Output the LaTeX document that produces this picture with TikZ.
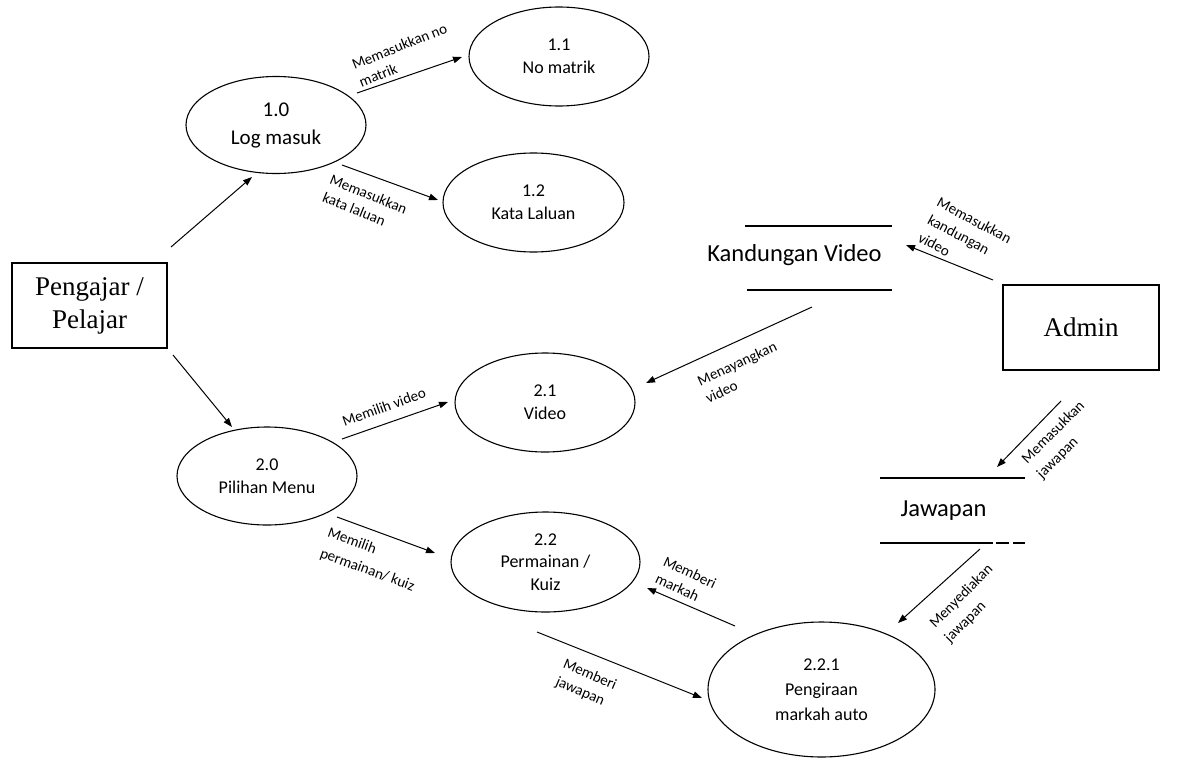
\documentclass[tikz,border=0pt]{standalone}
\usepackage{fontspec}
\setmainfont{Carlito}
\newfontfamily\timesf{Liberation Serif}
\usetikzlibrary{shapes.geometric,arrows.meta}
\begin{document}
\begin{tikzpicture}[x=1pt,y=-1pt,
  proc/.style={ellipse,draw,line width=1.1pt,inner sep=0pt,align=center,font=\fontsize{18}{23}\selectfont},
  ent/.style={rectangle,draw,line width=1.3pt,inner sep=0pt,align=center,font=\timesf\fontsize{27}{33}\selectfont},
  storetxt/.style={inner sep=0pt,font=\fontsize{24.5}{29}\selectfont},
  storeline/.style={line width=1.1pt},
  flow/.style={line width=1pt,-{Triangle[length=9pt,width=6.5pt]}},
  lbl/.style={inner sep=0pt,align=left,font=\fontsize{15}{19}\selectfont}]
\useasboundingbox (0,0) rectangle (1182,760);

% external entities
\node[ent,minimum width=155pt,minimum height=85pt] (peng) at (89.5,305.5) {Pengajar /\\Pelajar};
\node[ent,minimum width=156pt,minimum height=85pt] (admin) at (1081,327.5) {Admin};

% processes
\node[proc,minimum width=180pt,minimum height=97pt,font=\fontsize{21}{28}\selectfont] (p10) at (276,125) {1.0\\Log masuk};
\node[proc,minimum width=180pt,minimum height=99pt] (p11) at (559,56.5) {1.1\\No matrik};
\node[proc,minimum width=181pt,minimum height=99pt] (p12) at (533.5,202.5) {1.2\\Kata Laluan};
\node[proc,minimum width=180pt,minimum height=98pt] (p20) at (267,476) {2.0\\Pilihan Menu};
\node[proc,minimum width=180pt,minimum height=99pt] (p21) at (545,402.5) {2.1\\Video};
\node[proc,minimum width=189pt,minimum height=100pt,font=\fontsize{18}{22.5}\selectfont] (p22) at (545.5,562) {2.2\\Permainan /\\Kuiz};
\node[proc,minimum width=227pt,minimum height=135pt,font=\fontsize{18}{25}\selectfont] (p221) at (821.5,689.5) {2.2.1\\Pengiraan\\markah auto};

% data stores
\node[storetxt] (kv) at (794.5,255) {Kandungan Video};
\draw[storeline] (745,226) -- (892,226);
\draw[storeline] (747,290) -- (892,290);
\node[storetxt] (jaw) at (943.5,511) {Jawapan};
\draw[storeline] (880,478) -- (1025,478);
\draw[storeline] (880,543) -- (993,543) (996,543) -- (1009,543) (1013,543) -- (1025,543);

% flows
\draw[flow] ([shift={(81.5,-58.5)}]peng.center) -- ([shift={(-24,52)}]p10.center);
\draw[flow] ([shift={(83.5,49.5)}]peng.center) -- ([shift={(-35,-49)}]p20.center);
\draw[flow] ([shift={(81,-32)}]p10.center) -- ([shift={(-97,0.5)}]p11.center);
\draw[flow] ([shift={(66,40)}]p10.center) -- ([shift={(-95.5,-2.5)}]p12.center);
\draw[flow] ([shift={(75,-37)}]p20.center) -- ([shift={(-97,-0.5)}]p21.center);
\draw[flow] ([shift={(70,41)}]p20.center) -- ([shift={(-110.5,-9)}]p22.center);
\draw[flow] ([shift={(17.5,52)}]kv.center) -- ([shift={(101,-19.5)}]p21.center);
\draw[flow] ([shift={(-88,-47.5)}]admin.center) -- ([shift={(111.5,-10)}]kv.center);
\draw[flow] ([shift={(-20,73.5)}]admin.center) -- ([shift={(53.5,-44)}]jaw.center);
\draw[flow] ([shift={(36.5,38)}]jaw.center) -- ([shift={(76.5,-66.5)}]p221.center);
\draw[flow] ([shift={(-86.5,-63.5)}]p221.center) -- ([shift={(101.5,26)}]p22.center);
\draw[flow] ([shift={(-8.5,70)}]p22.center) -- ([shift={(-119.5,8.5)}]p221.center);

% flow labels
\node[lbl,rotate=22] (l1) at (403,55) {Memasukkan no\\matrik};
\node[lbl,rotate=-22] (l2) at (365,203) {Memasukkan\\kata laluan};
\node[lbl,rotate=-28,font=\fontsize{15}{20}\selectfont] (l3) at (965,238) {Memasukkan\\kandungan\\video};
\node[lbl,rotate=25] (l4) at (741,372) {Menayangkan\\video};
\node[lbl,rotate=20] (l5) at (384,407) {Memilih video};
\node[lbl,rotate=-20,font=\fontsize{15}{22}\selectfont] (l6) at (371,560) {Memilih\\permainan/ kuiz};
\node[lbl,rotate=45,font=\fontsize{15}{21}\selectfont] (l7) at (1061,440) {Memasukkan\\jawapan};
\node[lbl,rotate=45,font=\fontsize{15}{21}\selectfont] (l8) at (969,604) {Menyediakan\\jawapan};
\node[lbl,rotate=-25] (l9) at (686,581) {Memberi\\markah};
\node[lbl,rotate=-23] (l10) at (586,684) {Memberi\\jawapan};
\end{tikzpicture}
\end{document}
